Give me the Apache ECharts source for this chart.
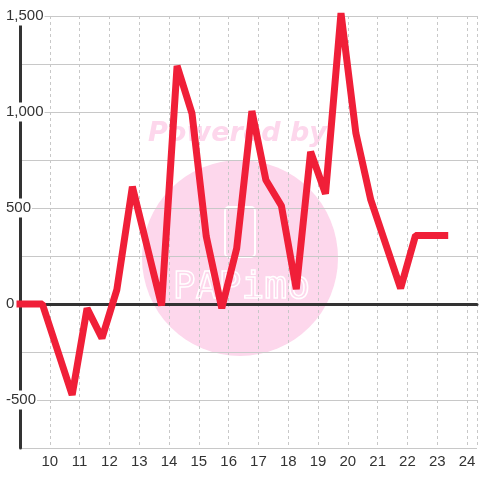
<!DOCTYPE html>
<html>
<head>
<meta charset="utf-8">
<script src="https://cdn.jsdelivr.net/npm/echarts@6/dist/echarts.min.js"></script>
<style>
  html, body { margin: 0; padding: 0; background: #fff; }
  #chart { width: 480px; height: 480px; }
</style>
</head>
<body>
<div id="chart"></div>
<script>
// hours along the x axis and the values
const hours = [9, 9.75, 10.75, 11.25, 11.75, 12.25, 12.77, 13.75, 14.27, 14.77, 15.25, 15.77, 16.27,
    16.78, 17.25, 17.77, 18.27, 18.75, 19.25, 19.77, 20.27, 20.77, 21.77, 22.27, 23.25]
const values = [0, 0, -474, -23, -178, 75, 611, -8, 1240, 993, 351, -22, 290,
    1005, 646, 512, 78, 793, 574, 1515, 889, 542, 82, 357, 357]
const yTicks = [-500, 0, 500, 1000, 1500]

const lineData = hours.map((h, i) => [h, values[i]])
const pink = '#fdd7ec'

const chart = echarts.init(document.getElementById('chart'))
chart.setOption({
    animation: false,
    backgroundColor: '#fff',
    grid: { left: 20, right: 0, top: 16, bottom: 32 },
    graphic: [
        { type: 'circle', z: -10, shape: { cx: 240, cy: 258, r: 98 }, style: { fill: pink } },
        {
            type: 'text', z: -10, left: 148, top: 120,
            style: { text: 'Powered by', fill: pink, font: 'italic bold 27px "DejaVu Sans"' }
        },
        {
            type: 'rect', z: -9, shape: { x: 225, y: 207, width: 30, height: 50, r: 4 },
            style: { fill: 'none', stroke: '#fff', lineWidth: 2 }
        },
        {
            type: 'text', z: -9, left: 172, top: 268,
            style: { text: 'PAPimo', fill: 'none', stroke: '#fff', lineWidth: 1.5, font: '38px "DejaVu Sans Mono"' }
        }
    ],
    xAxis: [{
        type: 'value',
        min: 9,
        max: 24.333,
        interval: 1,
        axisLine: { show: false, onZero: false },
        axisTick: { show: false },
        axisLabel: {
            color: '#333',
            fontSize: 15,
            fontFamily: 'Liberation Sans',
            margin: 6,
            formatter: v => (Number.isInteger(v) && v > 9) ? String(v) : ''
        },
        splitLine: { lineStyle: { color: '#c8c8c8', type: [3, 3] } }
    }, {
        type: 'value',
        position: 'top',
        min: 9,
        max: 24.333,
        axisLine: { show: true, onZero: true, lineStyle: { color: '#333', width: 3 } },
        axisTick: { show: false },
        axisLabel: { show: false },
        splitLine: { show: false }
    }],
    yAxis: {
        type: 'value',
        min: -750,
        max: 1500,
        interval: 250,
        axisLine: { show: true, lineStyle: { color: '#333', width: 3 } },
        axisTick: { show: false },
        axisLabel: {
            color: '#333',
            fontSize: 15,
            fontFamily: 'Liberation Sans',
            align: 'left',
            margin: 15,
            backgroundColor: '#fff',
            padding: [2, 1],
            formatter: v => yTicks.includes(v) ? v.toLocaleString('en-US') : ''
        },
        splitLine: { lineStyle: { color: '#c8c8c8', width: 1 } }
    },
    series: [{
        type: 'line',
        data: lineData,
        showSymbol: false,
        clip: false,
        z: 5,
        lineStyle: { color: '#f01f38', width: 7, cap: 'square' }
    }]
})
</script>
</body>
</html>
